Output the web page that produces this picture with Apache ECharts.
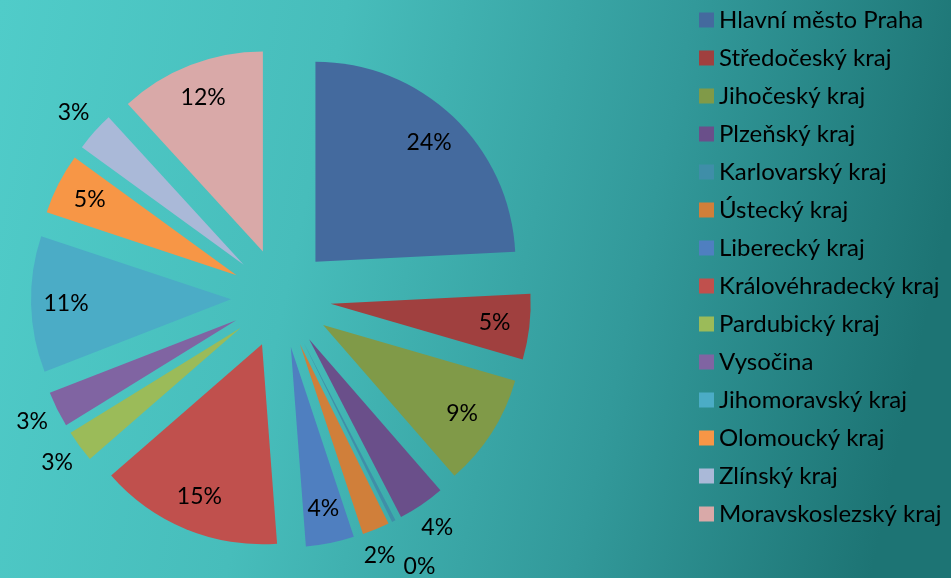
<!DOCTYPE html>
<html>
<head>
<meta charset="utf-8">
<script src="https://cdn.jsdelivr.net/npm/echarts@6/dist/echarts.min.js"></script>
<style>
  html, body { margin: 0; padding: 0; }
  #chart { width: 951px; height: 578px; }
</style>
</head>
<body>
<div id="chart"></div>
<script>
const regions = [
  'Hlavní město Praha', 'Středočeský kraj', 'Jihočeský kraj', 'Plzeňský kraj',
  'Karlovarský kraj', 'Ústecký kraj', 'Liberecký kraj', 'Královéhradecký kraj',
  'Pardubický kraj', 'Vysočina', 'Jihomoravský kraj', 'Olomoucký kraj',
  'Zlínský kraj', 'Moravskoslezský kraj'
]
const shares = [24.2, 5.3, 9.1, 3.8, 0.3, 2.2, 3.9, 14.8, 2.6, 2.9, 11.0, 4.9, 3.2, 11.8]

const colors = [
  '#446A9E', '#A0403F', '#809A48', '#6A4F8A', '#3F8EA8', '#D07F3A', '#4F7FC0',
  '#C0504D', '#9BBB59', '#8064A2', '#4BACC6', '#F79646', '#AAB9D8', '#D9A9A8'
]
// labels that sit just outside their slice
const outsideLabels = ['Plzeňský kraj', 'Karlovarský kraj', 'Ústecký kraj', 'Pardubický kraj', 'Vysočina', 'Zlínský kraj']
// small shifts so the crowded outside labels don't collide
const labelNudge = {
  'Karlovarský kraj': [13, 20],
  'Ústecký kraj': [-7, 0]
}

const fontFamily = 'Lato, "Open Sans", sans-serif'
const center = [281, 298]

const pctLabel = (p) => Math.round(p.percent) + '%'

const buildData = (labelFor) =>
  regions.map((name, i) => ({
    name,
    value: shares[i],
    selected: true,
    label: labelFor(name)
  }))

const labelSeries = (radius, showFor, extra) => ({
  type: 'pie',
  center,
  radius,
  startAngle: 90,
  selectedMode: 'multiple',
  selectedOffset: 50,
  avoidLabelOverlap: false,
  silent: true,
  itemStyle: { color: 'transparent', borderWidth: 0 },
  select: { itemStyle: { color: 'transparent', borderWidth: 0 } },
  labelLine: { show: false },
  label: {
    position: 'inside',
    formatter: pctLabel,
    fontFamily,
    fontSize: 23,
    color: '#000'
  },
  data: buildData((name) => ({ show: showFor(name) })),
  ...extra
})

const chart = echarts.init(document.getElementById('chart'))

chart.setOption({
  backgroundColor: new echarts.graphic.LinearGradient(0, 0, 1, 0.35, [
    { offset: 0, color: '#50CCC9' },
    { offset: 0.35, color: '#47BDBB' },
    { offset: 0.7, color: '#32999A' },
    { offset: 1, color: '#1D7474' }
  ]),
  color: colors,
  animation: false,
  legend: {
    orient: 'vertical',
    left: 694,
    top: 3,
    icon: 'rect',
    itemWidth: 15,
    itemHeight: 15,
    itemGap: 14,
    data: regions,
    textStyle: {
      fontFamily,
      fontSize: 24,
      lineHeight: 24,
      color: '#000'
    }
  },
  series: [
    {
      type: 'pie',
      center,
      radius: 200,
      startAngle: 90,
      clockwise: true,
      selectedMode: 'multiple',
      selectedOffset: 50,
      avoidLabelOverlap: false,
      label: { show: false },
      labelLine: { show: false },
      emphasis: { disabled: true },
      select: { itemStyle: { borderWidth: 0 } },
      itemStyle: { borderWidth: 0 },
      data: buildData(() => ({ show: false }))
    },
    labelSeries([124, 200], (name) => !outsideLabels.includes(name), {}),
    labelSeries([200, 250], (name) => outsideLabels.includes(name), {
      labelLayout: (params) => {
        const nudge = labelNudge[regions[params.dataIndex]]
        return nudge ? { dx: nudge[0], dy: nudge[1] } : {}
      }
    })
  ]
})
</script>
</body>
</html>
